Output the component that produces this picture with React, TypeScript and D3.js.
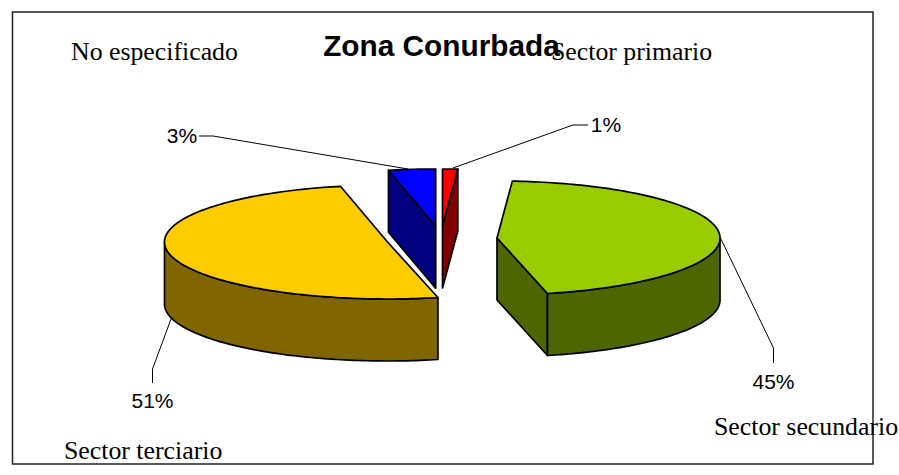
import React from "react";
import * as d3 from "d3";

const categories = ["Sector primario", "Sector secundario", "Sector terciario", "No especificado"];
const values = [1.1, 45.5, 50.5, 3.4];
const percentLabels = ["1%", "45%", "51%", "3%"];
const topColors = ["#FF0000", "#99CC00", "#FFCC00", "#0000FF"];
const sideColors = ["#800000", "#4D6600", "#806600", "#000080"];

const RX = 223;
const RY = 57;
const DEPTH = 62;
const centers: [number, number][] = [
  [442.5, 226],
  [497, 238],
  [387.5, 242],
  [435.5, 226],
];
const catPos: [number, number][] = [
  [551, 60],
  [714, 435],
  [64, 459],
  [71, 60],
];
const pctPos: [number, number][] = [
  [606, 132],
  [773.5, 389],
  [152.5, 408],
  [182, 143],
];
const leaders: [number, number][][] = [
  [[588, 125], [573, 125], [453, 168]],
  [[720, 237], [773.5, 348], [773.5, 363]],
  [[171, 319], [152.5, 369], [152.5, 383]],
  [[199, 136], [213, 136], [408, 169]],
];

const pieGen = d3.pie<number>().sort(null).startAngle(0).endAngle(2 * Math.PI);
const arcs = pieGen(values);
const line = d3.line();

function Slice({ i }: { i: number }) {
  const [cx, cy] = centers[i];
  const x = d3.scaleLinear().domain([-1, 1]).range([cx - RX, cx + RX]);
  const y = d3.scaleLinear().domain([-1, 1]).range([cy - RY, cy + RY]);
  const pt = (a: number, dz = 0): [number, number] => [x(Math.sin(a)), y(-Math.cos(a)) + dz];
  const sweep = (a0: number, a1: number, dz = 0) => {
    const n = Math.max(2, Math.ceil((a1 - a0) / 0.02));
    return d3.range(n + 1).map((k) => pt(a0 + ((a1 - a0) * k) / n, dz));
  };
  const { startAngle: a0, endAngle: a1 } = arcs[i];
  const c: [number, number] = [cx, cy];
  const cd: [number, number] = [cx, cy + DEPTH];
  const faces: [number, number][][] = [];
  if (Math.sin(a0) < 0) faces.push([c, pt(a0), pt(a0, DEPTH), cd]);
  if (Math.sin(a1) > 0) faces.push([c, pt(a1), pt(a1, DEPTH), cd]);
  const w0 = Math.max(a0, Math.PI / 2);
  const w1 = Math.min(a1, (3 * Math.PI) / 2);
  const top = [c, ...sweep(a0, a1)];
  return (
    <g stroke="#000" strokeWidth={1.7} strokeLinejoin="round">
      {faces.map((f, k) => (
        <path key={k} d={line(f) + "Z"} fill={sideColors[i]} />
      ))}
      {w1 > w0 && (
        <path d={line([...sweep(w0, w1), ...sweep(w0, w1, DEPTH).reverse()]) + "Z"} fill={sideColors[i]} />
      )}
      <path d={line(top) + "Z"} fill={topColors[i]} />
    </g>
  );
}

export default function App() {
  return (
    <svg width={899} height={475} style={{ position: "absolute", left: 0, top: 0, display: "block", background: "#fff" }}>
      <rect x={12.5} y={12} width={860.5} height={452} fill="#fff" stroke="#222" strokeWidth={1.5} />
      {leaders.map((l, i) => (
        <path key={i} d={line(l) as string} fill="none" stroke="#000" strokeWidth={1} />
      ))}
      {[3, 2, 1, 0].map((i) => (
        <Slice key={i} i={i} />
      ))}
      <text x={441.5} y={56} textAnchor="middle" fontFamily="Liberation Sans" fontWeight="bold" fontSize={29.8} fill="#000">
        Zona Conurbada
      </text>
      {categories.map((c, i) => (
        <text key={c} x={catPos[i][0]} y={catPos[i][1]} fontFamily="Liberation Serif" fontSize={25.8} fill="#000">
          {c}
        </text>
      ))}
      {percentLabels.map((p, i) => (
        <text key={p} x={pctPos[i][0]} y={pctPos[i][1]} textAnchor="middle" fontFamily="Liberation Sans" fontSize={21} fill="#000">
          {p}
        </text>
      ))}
    </svg>
  );
}
